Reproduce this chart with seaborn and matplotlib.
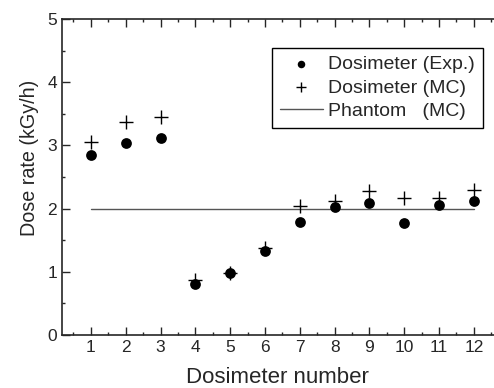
import numpy as np
import pandas as pd
import matplotlib
matplotlib.use('Agg')
import matplotlib.pyplot as plt
from matplotlib.ticker import MultipleLocator
import seaborn as sns

# data
dosimeter = [1, 2, 3, 4, 5, 6, 7, 8, 9, 10, 11, 12]
exp_rate = [2.85, 3.04, 3.11, 0.80, 0.98, 1.32, 1.79, 2.02, 2.08, 1.77, 2.05, 2.12]
mc_rate = [3.06, 3.37, 3.45, 0.87, 0.98, 1.37, 2.04, 2.12, 2.28, 2.16, 2.16, 2.29]
phantom_rate = [2.0] * 12

sns.set_style('ticks')
plt.rcParams['font.family'] = ['Liberation Sans', 'DejaVu Sans']

df = pd.DataFrame({'n': dosimeter, 'exp': exp_rate, 'mc': mc_rate, 'ph': phantom_rate})

fig = plt.figure(figsize=(4.94, 3.88), dpi=100)
ax = fig.add_axes([0.1255, 0.137, 0.874, 0.814])

sns.scatterplot(data=df, x='n', y='exp', ax=ax, color='black', marker='o', s=60,
                edgecolor='black', linewidth=0, label='Dosimeter (Exp.)', zorder=3)
sns.scatterplot(data=df, x='n', y='mc', ax=ax, color='black', marker='+', s=110,
                linewidth=1.0, label='Dosimeter (MC)', zorder=4)
sns.lineplot(data=df, x='n', y='ph', ax=ax, color='#555555', linewidth=1.0,
             label='Phantom   (MC)', zorder=2)

ax.set_xlim(0.17, 12.57)
ax.set_ylim(0, 5)
ax.xaxis.set_major_locator(MultipleLocator(1))
ax.xaxis.set_minor_locator(MultipleLocator(0.5))
ax.yaxis.set_major_locator(MultipleLocator(1))
ax.yaxis.set_minor_locator(MultipleLocator(0.5))
ax.tick_params(which='both', direction='in', top=True, right=False, labelsize=12.5)
ax.tick_params(which='major', length=5.5, width=1)
ax.tick_params(which='minor', length=2, width=1)
ax.spines['right'].set_visible(False)
for s in ['left', 'bottom', 'top']:
    ax.spines[s].set_linewidth(1.2)

ax.set_xlabel('Dosimeter number', fontsize=16, labelpad=9)
ax.set_ylabel('Dose rate (kGy/h)', fontsize=14.2, labelpad=6, y=0.56)

leg = ax.legend(loc='upper right', bbox_to_anchor=(0.975, 0.909), fontsize=14,
                frameon=True, fancybox=False, edgecolor='black', framealpha=1,
                markerscale=0.7, handlelength=2.2, handletextpad=0.3, borderpad=0.4,
                labelspacing=0.3, borderaxespad=0)
leg.get_frame().set_linewidth(1.0)

fig.savefig('out.png', dpi=100)
